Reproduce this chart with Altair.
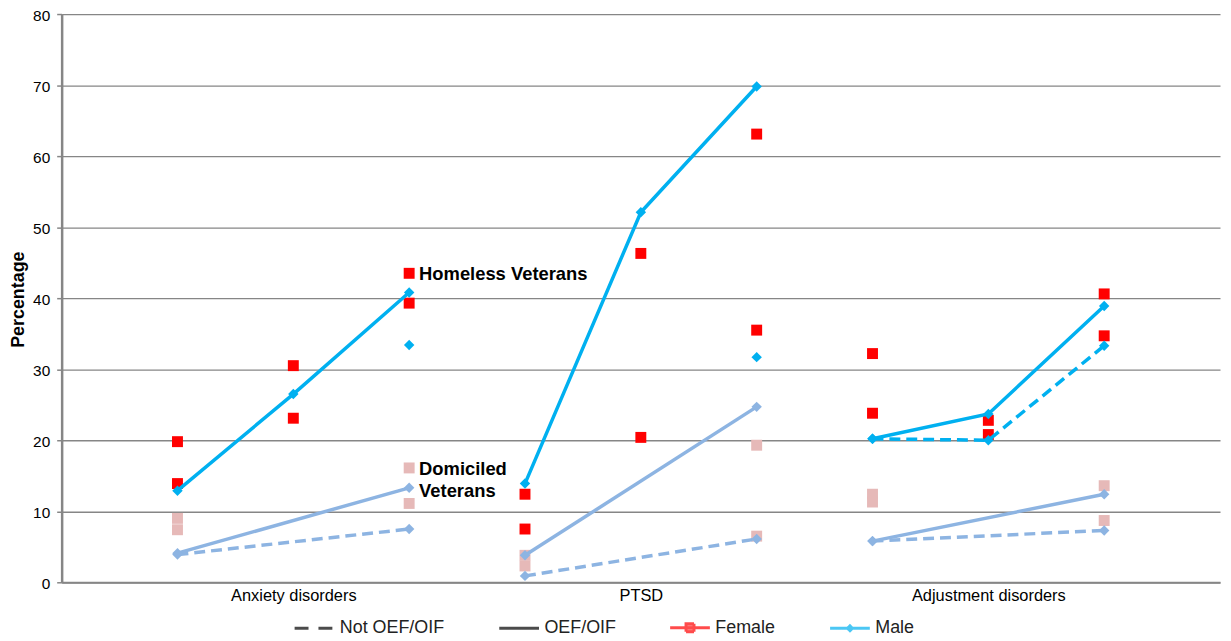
import altair as alt
import pandas as pd

FONT = "Liberation Sans"

# ---------------- data ----------------
categories = ["Anxiety disorders", "PTSD", "Adjustment disorders"]
positions = [1, 2, 3, 4, 5, 6, 7, 8, 9]
position_category = ["Anxiety disorders"] * 3 + ["PTSD"] * 3 + ["Adjustment disorders"] * 3
category_tick_positions = [2, 5, 8]
y_ticks = [0, 10, 20, 30, 40, 50, 60, 70, 80]

# Male series (lines with diamond markers)
homeless_male_oef = [12.9, 26.5, 40.8, 13.9, 52.1, 69.8, 20.2, 23.7, 38.9]
homeless_male_not = [None, None, 33.4, None, None, 31.7, 20.2, 20.0, 33.3]
domiciled_male_oef = [4.1, None, 13.3, 3.8, None, 24.7, 5.8, None, 12.4]
domiciled_male_not = [3.9, None, 7.5, 0.9, None, 6.1, 5.8, None, 7.3]

# Female series (square markers only)
homeless_female_oef = [19.8, 30.5, 43.5, 12.4, 46.3, 63.1, 32.2, 22.8, 40.6]
homeless_female_not = [13.9, 23.1, 39.3, 7.5, 20.4, 35.5, 23.8, 20.8, 34.7]
domiciled_female_oef = [9.0, None, 16.1, 3.8, None, 19.3, 12.4, None, 13.6]
domiciled_female_not = [7.4, None, 11.1, 2.3, None, 6.5, 11.3, None, 8.7]

legend_labels = ["Not OEF/OIF", "OEF/OIF", "Female", "Male"]
annotation_labels = ["Homeless Veterans", "Domiciled\nVeterans"]
annotation_pos = [3, 3]
annotation_values = [43.4, 15.9]

# ---------------- styles ----------------
C_HOMELESS_MALE = "#00B0F0"
C_DOMICILED_MALE = "#8DB4E2"
C_HOMELESS_FEMALE = "#FF0000"
C_DOMICILED_FEMALE = "#E6B9B8"
AXIS_GRAY = "#868686"
DASH = [11, 6]

legend_colors = ["#000000", "#000000", C_HOMELESS_FEMALE, C_HOMELESS_MALE]
legend_shapes = [
    "M-1,0H1",
    "M-1,0H1",
    "M-1,0H1M-0.2,-0.2H0.2V0.2H-0.2Z",
    "M-1,0H1M0,-0.12L0.12,0L0,0.12L-0.12,0Z",
]
legend_dashes = [[14, 10], [1, 0], [1, 0], [1, 0]]


def rows(name, values, color):
    out = []
    for p, cat, v in zip(positions, position_category, values):
        if v is not None:
            out.append({"series": name, "pos": p, "cat": cat, "value": v, "color": color})
    return out


lines_dom_dashed = pd.DataFrame(rows("Domiciled Male Not OEF/OIF", domiciled_male_not, C_DOMICILED_MALE))
lines_home_dashed = pd.DataFrame(rows("Homeless Male Not OEF/OIF", homeless_male_not, C_HOMELESS_MALE))
lines_dom_solid = pd.DataFrame(rows("Domiciled Male OEF/OIF", domiciled_male_oef, C_DOMICILED_MALE))
lines_home_solid = pd.DataFrame(rows("Homeless Male OEF/OIF", homeless_male_oef, C_HOMELESS_MALE))

squares = pd.DataFrame(
    rows("Domiciled Female OEF/OIF", domiciled_female_oef, C_DOMICILED_FEMALE)
    + rows("Domiciled Female Not OEF/OIF", domiciled_female_not, C_DOMICILED_FEMALE)
    + rows("Homeless Female OEF/OIF", homeless_female_oef, C_HOMELESS_FEMALE)
    + rows("Homeless Female Not OEF/OIF", homeless_female_not, C_HOMELESS_FEMALE)
)

annotations = pd.DataFrame({"label": annotation_labels, "pos": annotation_pos, "value": annotation_values})
legend_df = pd.DataFrame({"entry": legend_labels})

label_expr = " : ".join(
    f"datum.value == {p} ? '{c}'" for p, c in zip(category_tick_positions, categories)
) + " : ''"


def xenc():
    return alt.X(
        "pos:Q",
        scale=alt.Scale(domain=[0, 10], nice=False, zero=False),
        axis=alt.Axis(
            values=category_tick_positions,
            labelExpr=label_expr,
            grid=False,
            ticks=False,
            domainColor=AXIS_GRAY,
            domainWidth=2,
            labelFont=FONT,
            labelFontSize=16.5,
            labelColor="#000000",
            labelPadding=5,
            title=None,
        ),
    )


def yenc():
    return alt.Y(
        "value:Q",
        scale=alt.Scale(domain=[0, 80], nice=False, zero=True),
        axis=alt.Axis(
            values=y_ticks,
            grid=True,
            gridColor=AXIS_GRAY,
            gridWidth=1.3,
            domainColor=AXIS_GRAY,
            domainWidth=2.5,
            tickColor=AXIS_GRAY,
            tickWidth=1.5,
            tickSize=5,
            labelFont=FONT,
            labelFontSize=15.5,
            labelColor="#000000",
            labelPadding=7,
            labelOffset=1.5,
            title="Percentage",
            titleFont=FONT,
            titleFontSize=18,
            titleFontWeight="bold",
            titleColor="#000000",
            titleAngle=270,
            titleX=-43,
            titleY=287,
            titleAlign="center",
            titleBaseline="middle",
        ),
    )


square_layer = alt.Chart(squares).mark_square(size=121, opacity=1, filled=True).encode(
    x=xenc(), y=yenc(), color=alt.Color("color:N", scale=None)
)


def line_layer(df, dashed):
    kw = dict(strokeWidth=3.5,
              point=alt.OverlayMarkDef(shape="diamond", size=110, filled=True, opacity=1))
    if dashed:
        kw["strokeDash"] = DASH
    return alt.Chart(df).mark_line(**kw).encode(
        x=xenc(), y=yenc(), color=alt.Color("color:N", scale=None),
        detail=["series:N", "cat:N"], order="pos:Q"
    )


text_layer = alt.Chart(annotations).mark_text(
    align="left", baseline="middle", dx=10, font=FONT, fontSize=18.5,
    fontWeight="bold", color="#000000", lineBreak="\n", lineHeight=22
).encode(x=xenc(), y=yenc(), text="label:N")

leg = alt.Legend(
    orient="none", legendX=233, legendY=596, direction="horizontal", columns=4,
    columnPadding=48, symbolSize=1600, symbolStrokeWidth=3, labelFont=FONT,
    labelFontSize=18, labelColor="#222222", labelOffset=4, title=None, padding=0,
)
sc = lambda rng: alt.Scale(domain=legend_labels, range=rng)
legend_layer = alt.Chart(legend_df).mark_point(filled=True, clip=True).encode(
    x=alt.value(-500), y=alt.value(-500),
    fill=alt.Fill("entry:N", scale=sc(legend_colors), legend=leg),
    stroke=alt.Stroke("entry:N", scale=sc(legend_colors), legend=leg),
    shape=alt.Shape("entry:N", scale=sc(legend_shapes), legend=leg),
    strokeDash=alt.StrokeDash("entry:N", scale=sc(legend_dashes), legend=leg),
)

chart = alt.layer(
    square_layer,
    line_layer(lines_dom_dashed, True),
    line_layer(lines_dom_solid, False),
    line_layer(lines_home_dashed, True),
    line_layer(lines_home_solid, False),
    text_layer,
    legend_layer,
).properties(
    width=1166,
    height=572,
    autosize=alt.AutoSizeParams(type="none"),
    padding={"left": 54, "top": 4, "right": 3, "bottom": 56},
).configure_view(stroke=None)

chart.save("out.html", embed_options={"renderer": "svg", "actions": False})
